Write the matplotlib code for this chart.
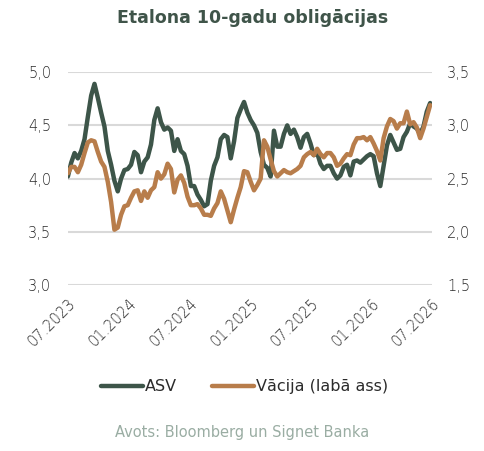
import matplotlib
matplotlib.use("Agg")
import matplotlib.pyplot as plt
import matplotlib.dates as mdates
from matplotlib.ticker import FuncFormatter
import pandas as pd

plt.rcParams['font.family'] = ['DejaVu Sans']

# 10-day observations starting 07.2023
dates = pd.date_range('2023-07-01', periods=110, freq='10D')

usa = [4.02, 4.15, 4.24, 4.19, 4.26, 4.37, 4.58, 4.78, 4.89, 4.76,
       4.62, 4.49, 4.26, 4.13, 3.98, 3.88, 4.00, 4.08, 4.09, 4.13,
       4.25, 4.22, 4.06, 4.16, 4.20, 4.32, 4.55, 4.66, 4.53, 4.46,
       4.48, 4.45, 4.26, 4.37, 4.26, 4.23, 4.12, 3.93, 3.93, 3.85,
       3.80, 3.74, 3.76, 3.98, 4.12, 4.20, 4.37, 4.41, 4.39, 4.19,
       4.35, 4.57, 4.65, 4.72, 4.62, 4.55, 4.50, 4.43, 4.25, 4.13,
       4.10, 4.02, 4.45, 4.30, 4.30, 4.42, 4.50, 4.42, 4.46, 4.39,
       4.29, 4.39, 4.42, 4.33, 4.22, 4.24, 4.14, 4.09, 4.12, 4.12,
       4.05, 4.00, 4.03, 4.11, 4.13, 4.03, 4.16, 4.17, 4.15, 4.18,
       4.21, 4.23, 4.21, 4.05, 3.93, 4.12, 4.31, 4.41, 4.34, 4.27,
       4.28, 4.39, 4.44, 4.52, 4.49, 4.47, 4.42, 4.49, 4.63, 4.71]

germany = [2.55, 2.61, 2.61, 2.56, 2.63, 2.74, 2.84, 2.86, 2.85, 2.75,
           2.66, 2.61, 2.47, 2.28, 2.02, 2.04, 2.16, 2.24, 2.25, 2.32,
           2.38, 2.39, 2.29, 2.38, 2.32, 2.39, 2.42, 2.56, 2.50, 2.54,
           2.64, 2.59, 2.37, 2.49, 2.53, 2.46, 2.33, 2.25, 2.25, 2.26,
           2.22, 2.16, 2.16, 2.15, 2.22, 2.27, 2.38, 2.31, 2.20, 2.09,
           2.21, 2.32, 2.42, 2.57, 2.56, 2.47, 2.39, 2.44, 2.50, 2.86,
           2.80, 2.68, 2.57, 2.52, 2.55, 2.58, 2.56, 2.55, 2.57, 2.59,
           2.62, 2.70, 2.73, 2.75, 2.72, 2.78, 2.73, 2.70, 2.74, 2.74,
           2.70, 2.62, 2.64, 2.69, 2.73, 2.72, 2.82, 2.88, 2.88, 2.89,
           2.86, 2.89, 2.83, 2.76, 2.67, 2.88, 2.99, 3.06, 3.04, 2.97,
           3.02, 3.02, 3.13, 3.01, 3.03, 2.98, 2.88, 2.97, 3.08, 3.19]

left_ticks = [3.0, 3.5, 4.0, 4.5, 5.0]
right_ticks = [1.5, 2.0, 2.5, 3.0, 3.5]

green = '#3d5549'
orange = '#b87d4b'
text_col = '#2b2b2b'

fig = plt.figure(figsize=(4.85, 4.51), dpi=100)
ax = fig.add_axes([0.140, 0.368, 0.751, 0.472])
ax2 = ax.twinx()

l1, = ax.plot(dates, usa, color=green, lw=3.2, solid_capstyle='round', zorder=3)
l2, = ax2.plot(dates, germany, color=orange, lw=3.2, solid_capstyle='round', zorder=3)

comma = FuncFormatter(lambda v, p: f'{v:.1f}'.replace('.', ','))
ax.set_ylim(3.0, 5.0)
ax.set_yticks(left_ticks)
ax.yaxis.set_major_formatter(comma)
ax2.set_ylim(1.5, 3.5)
ax2.set_yticks(right_ticks)
ax2.yaxis.set_major_formatter(comma)

ax.set_xlim(pd.Timestamp('2023-07-01'), pd.Timestamp('2026-07-01'))
ax.xaxis.set_major_locator(mdates.MonthLocator(bymonth=[1, 7]))
ax.xaxis.set_major_formatter(mdates.DateFormatter('%m.%Y'))
for lab in ax.get_xticklabels():
    lab.set_rotation(45)
    lab.set_ha('right')
    lab.set_rotation_mode('anchor')

ax.grid(axis='y', color='#d9d9d9', lw=1.5)
ax.set_axisbelow(True)
for a in (ax, ax2):
    for s in a.spines.values():
        s.set_visible(False)
ax.tick_params(axis='y', length=0, pad=12, labelsize=10.5, labelcolor=text_col)
ax2.tick_params(axis='y', length=0, pad=11, labelsize=10.5, labelcolor=text_col)
ax.tick_params(axis='x', length=0, pad=8, labelsize=10.5, labelcolor=text_col)
for lab in ax.get_xticklabels() + ax.get_yticklabels() + ax2.get_yticklabels():
    lab.set_fontweight('light')

fig.text(0.52, 0.96, 'Etalona 10-gadu obligācijas', ha='center', va='center',
         fontsize=12.5, fontweight='bold', color='#3f5449')

fig.legend([l1, l2], ['ASV', 'Vācija (labā ass)'], loc='center',
           bbox_to_anchor=(0.505, 0.142), ncol=2, frameon=False, fontsize=11.5,
           handlelength=2.6, handletextpad=0.15, columnspacing=2.2,
           labelcolor=text_col)

fig.text(0.5, 0.042, 'Avots: Bloomberg un Signet Banka', ha='center',
         va='center', fontsize=10.5, color='#9aada3')

fig.savefig('out.png', dpi=100)
